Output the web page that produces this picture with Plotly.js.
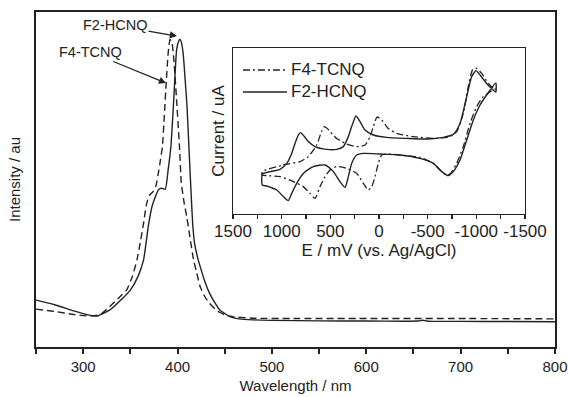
<!DOCTYPE html>
<html>
<head>
<meta charset="utf-8">
<script src="https://cdn.plot.ly/plotly-3.0.1.min.js"></script>
<style>html,body{margin:0;padding:0;background:#fff;}#chart{width:568px;height:397px;}</style>
</head>
<body>
<div id="chart"></div>
<script>
// ---- Main UV-Vis spectra ----
const wl_F2 = [250,270,290,305,315,328,338,350,358,364,369,373,376,380,383,387,390,393,396,399,401,402.5,404,406,408,410,412,414,416,418,421,424,429,434,440,445,450,456,465,480,500,550,600,640,655,660,665,700,750,800];
const int_F2 = [0.140,0.126,0.108,0.096,0.0925,0.11,0.135,0.17,0.21,0.26,0.36,0.42,0.445,0.47,0.474,0.471,0.528,0.60,0.74,0.887,0.912,0.919,0.91,0.875,0.80,0.72,0.60,0.48,0.37,0.31,0.27,0.24,0.195,0.16,0.13,0.11,0.10,0.09,0.084,0.081,0.0795,0.078,0.0775,0.077,0.0775,0.080,0.077,0.0765,0.076,0.0755];

const wl_F4 = [250,270,290,307,318,328,337,346,352,357,361,364,367,370,374,377,380,382,384,386,388,390,392,394,396,399,402,404,407,410,413,417,420,424,429,434,440,445,450,460,480,520,600,700,800];
const int_F4 = [0.113,0.106,0.097,0.0925,0.097,0.12,0.145,0.17,0.21,0.26,0.32,0.37,0.425,0.452,0.464,0.48,0.525,0.56,0.60,0.69,0.79,0.875,0.918,0.91,0.86,0.737,0.60,0.49,0.43,0.385,0.33,0.26,0.225,0.18,0.15,0.13,0.113,0.103,0.096,0.09,0.086,0.085,0.085,0.085,0.084];

const wl_ticks = [300,400,500,600,700,800];
const wl_ticktext = ["300","400","500","600","700","800"];

// ---- Inset cyclic voltammograms (E in mV, current in arbitrary uA) ----
const E_F2 = [1205,1199,1120,1017,948,897,863,829,805,771,726,658,537,435,367,315,281,236,195,144,58,-79,-285,-490,-661,-763,-832,-901,-952,-997,-1038,-1106,-1174,-1200,
  -1200,-1106,-1038,-969,-901,-832,-763,-712,-644,-558,-421,-216,-10,161,229,281,315,349,401,469,555,675,778,846,897,932,983,1051,1154,1199,1205];
const I_F2 = [-24,-21.5,-20.3,-19.2,-16.2,-11.2,-6.2,-2,-0.8,-2.5,-5.3,-7.8,-9.2,-9.2,-7.8,-2.8,2.2,7.5,4.7,0.5,-2,-3.2,-3.7,-4,-3.2,-1.7,3.8,17.2,27.2,30.2,28,23.8,20.5,19.5,
  24,18,13,5.5,-4.5,-14.5,-20.3,-22.3,-20.3,-16.2,-13.7,-12,-11.5,-11.2,-12,-16.2,-22.8,-28.2,-25.3,-20.3,-17,-17.8,-21.2,-26.2,-31.2,-34.8,-32.8,-29.5,-27.5,-27,-24];

const E_F4 = [1199,983,812,726,640,589,560,530,503,435,332,229,144,92,58,20,-28,-96,-182,-353,-558,-729,-798,-866,-917,-963,-1004,-1055,-1123,-1195,
  -1195,-1072,-1004,-935,-866,-798,-729,-695,-627,-558,-421,-216,-79,-28,7,41,75,110,161,229,332,435,503,555,606,658,709,778,880,1017,1154,1199,1199];
const I_F4 = [-20.3,-17,-15.3,-12.8,-7,0,2.2,1.2,-0.3,-3.7,-6.5,-7.8,-7,-2.8,2.2,7,5.5,1.3,-1.2,-2.8,-3.7,-2.8,-0.3,8.8,22.2,30.8,31.3,28.8,23.8,20.5,
  21,17.2,12.2,3.8,-7.8,-16.2,-21.5,-22,-19.5,-16.2,-13.2,-12,-11.5,-12,-16.2,-22.8,-27.8,-29.5,-26.2,-21.2,-18.7,-17.8,-19.5,-22.8,-27.8,-33.7,-31.2,-27.8,-25.3,-22.8,-22.3,-22,-20.3];

const E_ticks = [1500,1000,500,0,-500,-1000,-1500];
const E_ticktext = ["1500","1000","500","0","-500","-1000","-1500"];

const legendNames = ["F4-TCNQ","F2-HCNQ"];

const FONT = "Liberation Sans, Arial, Helvetica, sans-serif";
const INK = "#222";
const DASH_MAIN = "7px,4px";
const DASH_CV = "7px,3px,2px,3px";

const traces = [
  {x: wl_F4, y: int_F4, type: "scatter", mode: "lines", name: "F4-TCNQ",
   line: {color: INK, width: 1.4, dash: DASH_MAIN, shape: "spline", smoothing: 0.5}, xaxis: "x", yaxis: "y"},
  {x: wl_F2, y: int_F2, type: "scatter", mode: "lines", name: "F2-HCNQ",
   line: {color: INK, width: 1.4, shape: "spline", smoothing: 0.5}, xaxis: "x", yaxis: "y"},
  {x: E_F4, y: I_F4, type: "scatter", mode: "lines", name: "F4-TCNQ",
   line: {color: INK, width: 1.3, dash: DASH_CV, shape: "spline", smoothing: 0.6}, xaxis: "x2", yaxis: "y2"},
  {x: E_F2, y: I_F2, type: "scatter", mode: "lines", name: "F2-HCNQ",
   line: {color: INK, width: 1.4, shape: "spline", smoothing: 0.6}, xaxis: "x2", yaxis: "y2"}
];

// Hand-built inset legend (samples + labels), in paper coordinates
const legX0 = 0.3988, legX1 = 0.4836, legTextX = 0.4875;
const legY = [0.8269, 0.7612];
const legDash = [DASH_CV, "solid"];
const shapes = legendNames.map((n, i) => ({
  type: "line", xref: "paper", yref: "paper", x0: legX0, x1: legX1, y0: legY[i], y1: legY[i],
  line: {color: INK, width: 1.4, dash: legDash[i]}
}));
const legendLabels = legendNames.map((n, i) => ({
  xref: "paper", yref: "paper", x: legTextX, y: legY[i], xanchor: "left", yanchor: "middle",
  text: n, showarrow: false, font: {family: FONT, size: 17, color: INK}
}));

const layout = {
  width: 568, height: 397,
  margin: {l: 36, r: 13, t: 12, b: 50},
  paper_bgcolor: "#fff", plot_bgcolor: "#fff",
  font: {family: FONT, color: INK, size: 15},
  showlegend: false,
  xaxis: {
    range: [250, 800], domain: [0, 1], anchor: "y",
    showline: true, linewidth: 2, linecolor: INK, mirror: true,
    ticks: "outside", ticklen: 5, tickwidth: 2, tickcolor: INK,
    tickmode: "array", tickvals: wl_ticks, ticktext: wl_ticktext,
    minor: {tickmode: "linear", tick0: 250, dtick: 50, ticks: "outside", ticklen: 5, tickwidth: 2, tickcolor: INK},
    showgrid: false, zeroline: false,
    tickfont: {size: 15},
    title: {text: "Wavelength / nm", font: {size: 15}, standoff: 6}
  },
  yaxis: {
    range: [0, 1], domain: [0, 1], anchor: "x",
    showline: true, linewidth: 2, linecolor: INK, mirror: true,
    ticks: "", showticklabels: false, showgrid: false, zeroline: false,
    title: {text: "Intensity / au", font: {size: 15}, standoff: 10}
  },
  xaxis2: {
    range: [1500, -1500], domain: [0.3796, 0.9422], anchor: "y2",
    showline: true, linewidth: 1.2, linecolor: INK, mirror: true,
    ticks: "outside", ticklen: 4, tickwidth: 1.2, tickcolor: INK,
    tickmode: "array", tickvals: E_ticks, ticktext: E_ticktext,
    minor: {tickmode: "linear", tick0: 250, dtick: 500, ticks: "outside", ticklen: 4, tickwidth: 1.2, tickcolor: INK},
    showgrid: false, zeroline: false,
    tickfont: {size: 17}, ticklabelstandoff: -3,
    title: {text: "E / mV (vs. Ag/AgCl)", font: {size: 17}, standoff: 1}
  },
  yaxis2: {
    range: [-41.5, 41.5], domain: [0.397, 0.8925], anchor: "x2",
    showline: true, linewidth: 1.2, linecolor: INK, mirror: true,
    ticks: "", showticklabels: false, showgrid: false, zeroline: false,
    title: {text: "Current / uA", font: {size: 17}, standoff: 2}
  },
  shapes: shapes,
  annotations: [
    {x: 399.4, y: 0.928, xref: "x", yref: "y", text: "F2-HCNQ", showarrow: true,
     ax: -62, ay: -11, arrowhead: 2, arrowsize: 1.1, arrowwidth: 1.3, arrowcolor: INK,
     font: {family: FONT, size: 14.5, color: INK}},
    {x: 387.8, y: 0.788, xref: "x", yref: "y", text: "F4-TCNQ", showarrow: true,
     ax: -76, ay: -31, arrowhead: 2, arrowsize: 1.1, arrowwidth: 1.3, arrowcolor: INK,
     font: {family: FONT, size: 14.5, color: INK}}
  ].concat(legendLabels)
};

Plotly.newPlot("chart", traces, layout, {displayModeBar: false, staticPlot: true});
</script>
</body>
</html>
